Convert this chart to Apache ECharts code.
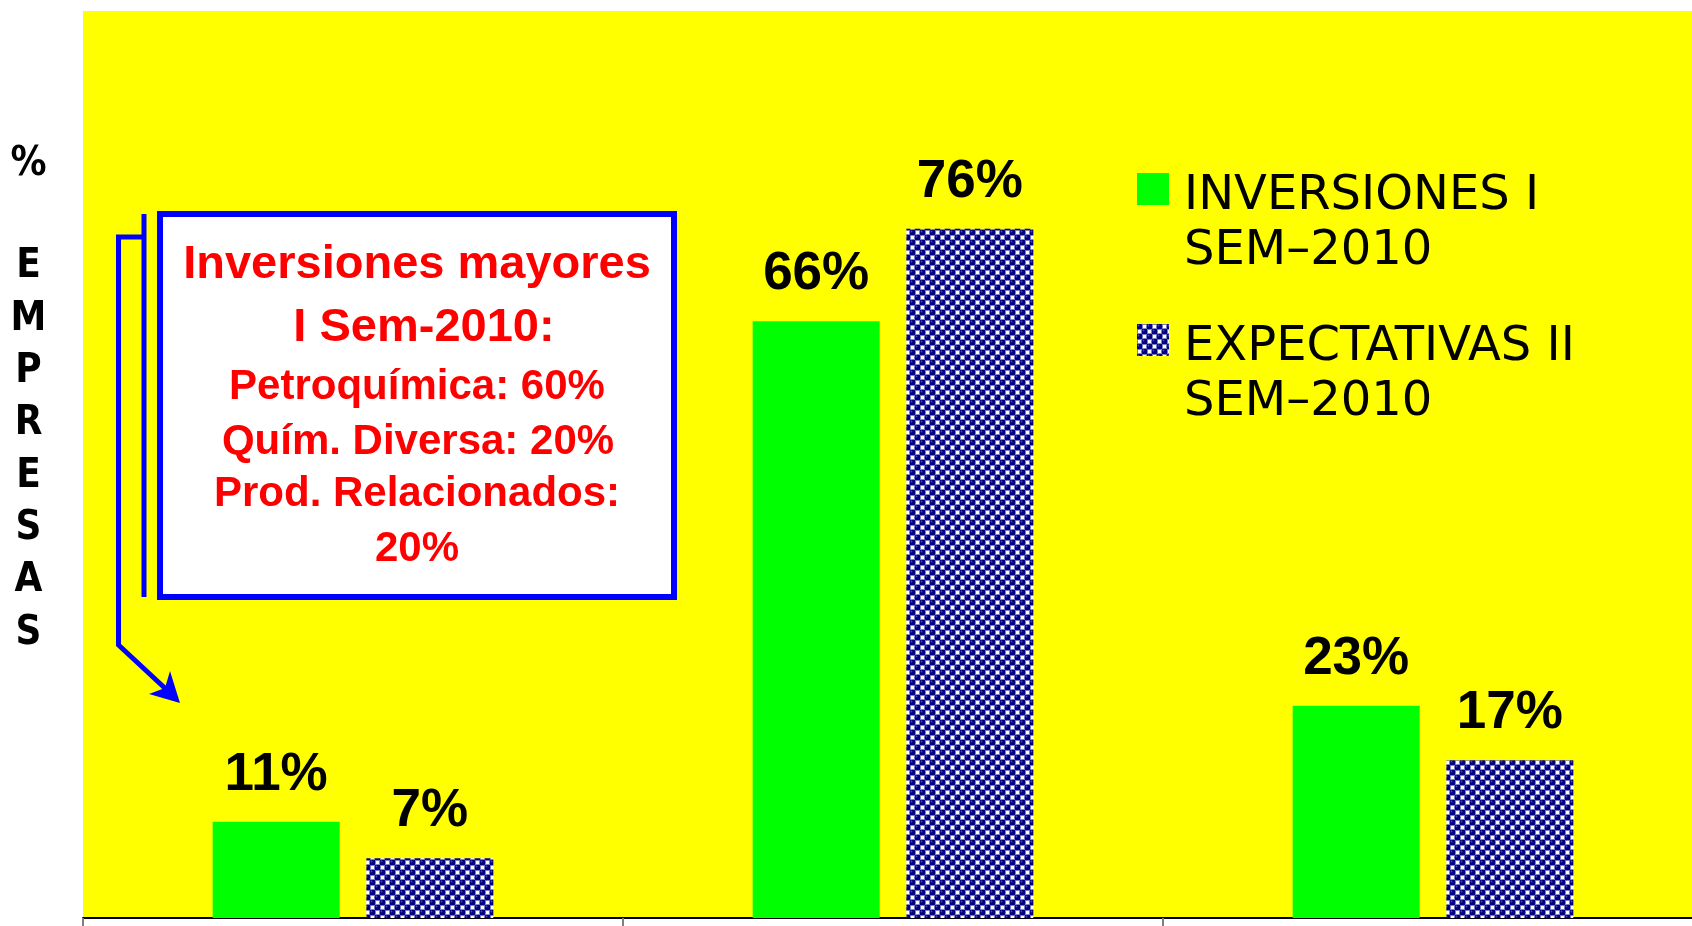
<!DOCTYPE html>
<html><head><meta charset="utf-8">
<script src="https://cdn.jsdelivr.net/npm/echarts@6/dist/echarts.min.js"></script>
<style>html,body{margin:0;padding:0;background:#fff}#c{width:1692px;height:926px}</style>
</head><body><div id="c"></div>
<script>
// ---- data ----
const categories = ['Categoría 1', 'Categoría 2', 'Categoría 3'];
const seriesNames = ['INVERSIONES I\nSEM–2010', 'EXPECTATIVAS II\nSEM–2010'];
const inversiones = [10.6, 65.8, 23.4];
const expectativas = [6.6, 76.0, 17.4];
const yTitleLetters = ['%', '{b| }', 'E', 'M', 'P', 'R', 'E', 'S', 'A', 'S'];
const boxTitle = ['Inversiones mayores', 'I Sem-2010:'];
const boxDetails = ['Petroquímica: 60%', 'Quím. Diversa: 20%', 'Prod. Relacionados:', '20%'];

function makePattern() {
  const T = 10;
  const c = document.createElement('canvas');
  c.width = T; c.height = T;
  const g = c.getContext('2d');
  g.fillStyle = '#6c6cbc'; g.fillRect(0, 0, T, T);
  const circ = [[2.5,2.5],[7.5,7.5],[-2.5,7.5],[7.5,-2.5],[12.5,2.5],[2.5,12.5],[-2.5,-2.5],[12.5,12.5]];
  g.fillStyle = '#000080';
  circ.forEach(p => { g.beginPath(); g.arc(p[0], p[1], 3.1, 0, Math.PI * 2); g.fill(); });
  g.fillStyle = '#4646b4';
  circ.forEach(p => { g.beginPath(); g.arc(p[0] - 1, p[1] - 1, 0.9, 0, Math.PI * 2); g.fill(); });
  g.fillStyle = '#c4c4ea';
  g.fillRect(5.5, 0.5, 4, 4); g.fillRect(0.5, 5.5, 4, 4);
  g.fillStyle = '#ffffff';
  g.fillRect(6, 1, 3, 3); g.fillRect(1, 6, 3, 3);
  return { image: c, repeat: 'repeat' };
}
const pattern = makePattern();

const labelStyle = {
  show: true, position: 'top', distance: 20,
  formatter: p => Math.round(p.value) + '%',
  fontFamily: '"Liberation Sans", Arial, sans-serif', fontWeight: 'bold',
  fontSize: 53, color: '#000'
};
const legendText = {
  fontFamily: '"DejaVu Sans", Verdana, sans-serif', fontSize: 48, lineHeight: 55, color: '#000',
  padding: [0, 0, 0, 10],
  rich: { s: { fontSize: 10, lineHeight: 70 } }
};
const boxFont = '"Liberation Sans", Arial, sans-serif';

const chart = echarts.init(document.getElementById('c'), null, { renderer: 'canvas' });
chart.setOption({
  animation: false,
  backgroundColor: '#ffffff',
  grid: { left: 83, top: 11, width: 1620, bottom: 8, outerBoundsMode: 'none', containLabel: false,
          show: true, backgroundColor: '#ffff00', borderWidth: 0 },
  legend: [
    { data: [seriesNames[0]], left: 1137, top: 99, padding: 0, itemWidth: 32, itemHeight: 32,
      icon: 'rect', selectedMode: false, textStyle: legendText, formatter: n => '{s| }\n' + n },
    { data: [seriesNames[1]], left: 1137, top: 250, padding: 0, itemWidth: 32, itemHeight: 32,
      icon: 'rect', selectedMode: false, textStyle: legendText, formatter: n => '{s| }\n' + n }
  ],
  xAxis: {
    type: 'category', data: categories, boundaryGap: true,
    axisLine: { show: true, lineStyle: { color: '#000', width: 2 } },
    axisTick: { show: true, length: 9, lineStyle: { color: '#808080', width: 2 } },
    axisLabel: { show: false }, splitLine: { show: false }
  },
  yAxis: {
    type: 'value', min: 0, max: 100,
    axisLine: { show: false }, axisTick: { show: false }, axisLabel: { show: false }, splitLine: { show: false },
    name: yTitleLetters.join('\n') + '\n{g| }', nameLocation: 'middle', nameGap: 54.5, nameRotate: 0,
    nameTextStyle: {
      fontFamily: '"Liberation Sans Narrow", "DejaVu Sans Condensed", sans-serif', fontWeight: 'bold',
      fontSize: 40, lineHeight: 52.3, color: '#000', align: 'center', verticalAlign: 'middle',
      rich: { g: { fontSize: 10, lineHeight: 131 }, b: { fontSize: 10, lineHeight: 50 } }
    }
  },
  series: [
    { name: seriesNames[0], type: 'bar', data: inversiones, barWidth: 127, barGap: '21%',
      itemStyle: { color: '#00ff00' }, label: labelStyle },
    { name: seriesNames[1], type: 'bar', data: expectativas, barWidth: 127, barGap: '21%',
      itemStyle: { color: pattern }, label: labelStyle }
  ],
  graphic: [
    { type: 'line', z: 100, shape: { x1: 144, y1: 214, x2: 144, y2: 597 }, style: { stroke: '#0000ff', lineWidth: 5 } },
    { type: 'polyline', z: 100, shape: { points: [[144, 237], [118.5, 237], [118.5, 645], [168, 691]] },
      style: { stroke: '#0000ff', lineWidth: 5, fill: null, lineJoin: 'miter' } },
    { type: 'polygon', z: 100, shape: { points: [[180, 703], [170, 671], [165, 688], [149, 694]] },
      style: { fill: '#0000ff' } },
    { type: 'rect', z: 100, shape: { x: 160, y: 214, width: 514, height: 383 },
      style: { fill: '#ffffff', stroke: '#0000ff', lineWidth: 6 } },
    { type: 'text', z: 101, x: 417, y: 265, style: { text: boxTitle[0], fill: '#ff0000', font: 'bold 47px ' + boxFont, align: 'center', verticalAlign: 'middle' } },
    { type: 'text', z: 101, x: 424, y: 328, style: { text: boxTitle[1], fill: '#ff0000', font: 'bold 47px ' + boxFont, align: 'center', verticalAlign: 'middle' } },
    { type: 'text', z: 101, x: 417, y: 387.5, style: { text: boxDetails[0], fill: '#ff0000', font: 'bold 42px ' + boxFont, align: 'center', verticalAlign: 'middle' } },
    { type: 'text', z: 101, x: 418, y: 442, style: { text: boxDetails[1], fill: '#ff0000', font: 'bold 42px ' + boxFont, align: 'center', verticalAlign: 'middle' } },
    { type: 'text', z: 101, x: 417, y: 494.5, style: { text: boxDetails[2], fill: '#ff0000', font: 'bold 42px ' + boxFont, align: 'center', verticalAlign: 'middle' } },
    { type: 'text', z: 101, x: 417, y: 549.5, style: { text: boxDetails[3], fill: '#ff0000', font: 'bold 42px ' + boxFont, align: 'center', verticalAlign: 'middle' } }
  ]
});
</script></body></html>
